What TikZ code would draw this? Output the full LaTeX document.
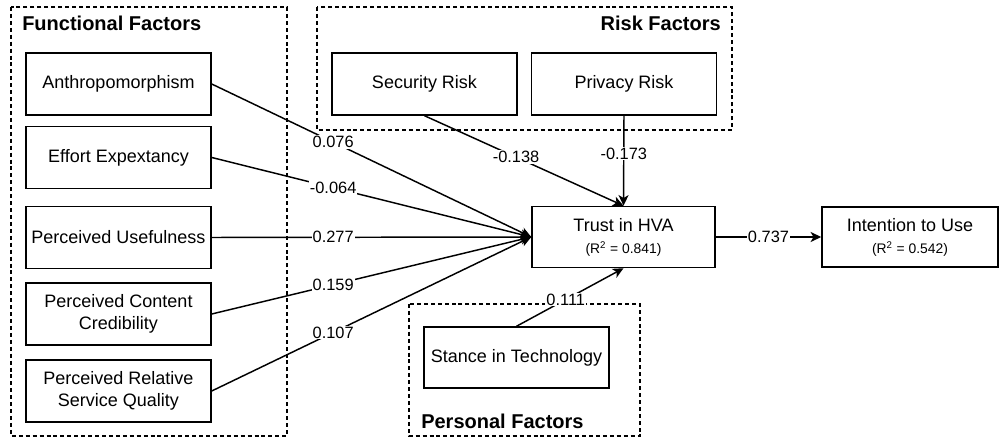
\documentclass[tikz,border=0pt]{standalone}
\usepackage{fontspec}
\setmainfont{Liberation Sans}
\usetikzlibrary{arrows.meta, positioning}
\newcommand{\rsqfont}{\fontsize{10.4}{12}\selectfont}

\begin{document}
\begin{tikzpicture}[x=0.75pt, y=-0.75pt,
  factor/.style={draw, line width=1.1pt, minimum height=46.5pt, minimum width=138.75pt,
                 inner sep=1pt, align=center, font=\fontsize{13.5}{16}\selectfont},
  group/.style={draw, dashed, line width=0.8pt, dash pattern=on 3pt off 2.2pt},
  head/.style={font=\fontsize{15}{18}\selectfont\bfseries, inner sep=0pt},
  lbl/.style={fill=white, inner sep=0.8pt, font=\fontsize{12.3}{14}\selectfont},
  arr/.style={line width=1.1pt, -{Stealth[length=8pt, width=7.5pt, inset=2.2pt]}}]
  \useasboundingbox (0,0) rectangle (1000,438);
  % dashed groups of factors
  \draw[group] (11,7) rectangle (287,436);
  \draw[group] (317,7) rectangle (732,130);
  \draw[group] (409,304) rectangle (640,436);
  \node[head, anchor=west] (funchead) at (22,23) {Functional Factors};
  \node[head, anchor=east] (riskhead) at (721,23) {Risk Factors};
  \node[head, anchor=west] (perhead)  at (421,421) {Personal Factors};
  % functional factors
  \node[factor] (anth) at (118.5,84)    {Anthropomorphism};
  \node[factor] (eff)  at (118.5,157.5) {Effort Expextancy};
  \node[factor] (use)  at (118.5,237.5) {Perceived Usefulness};
  \node[factor] (cred) at (118.5,314)   {Perceived Content\\Credibility};
  \node[factor] (rel)  at (118.5,391)   {Perceived Relative\\Service Quality};
  % risk factors
  \node[factor] (sec)  at (424.5,84) {Security Risk};
  \node[factor] (priv) at (624,84)   {Privacy Risk};
  % personal factor
  \node[factor, minimum height=45.75pt] (stance) at (516.5,357.5) {Stance in Technology};
  % outcomes
  \node[factor, minimum width=137.25pt, minimum height=45.75pt] (trust) at (623.5,237)
    {Trust in HVA\\[0.5pt]{\rsqfont (R\textsuperscript{2} = 0.841)}};
  \node[factor, minimum width=132pt, minimum height=45pt] (intent) at (910,237)
    {Intention to Use\\[0.5pt]{\rsqfont (R\textsuperscript{2} = 0.542)}};
  % paths with coefficients
  \draw[arr] (anth.east) -- node[lbl, pos=0.38] {0.076} (trust.west);
  \draw[arr] (eff.east)  -- node[lbl, pos=0.38] {-0.064} (trust.west);
  \draw[arr] (use.east)  -- node[lbl, pos=0.38] {0.277} (trust.west);
  \draw[arr] (cred.east) -- node[lbl, pos=0.38] {0.159} (trust.west);
  \draw[arr] (rel.east)  -- node[lbl, pos=0.38] {0.107} (trust.west);
  \draw[arr] (sec.south)  -- node[lbl, pos=0.46] {-0.138} (trust.north);
  \draw[arr] (priv.south) -- node[lbl, pos=0.42] {-0.173} (trust.north);
  \draw[arr] (stance.north) -- node[lbl, pos=0.46] {0.111} (trust.south);
  \draw[arr] (trust.east) -- node[lbl] {0.737} (intent.west);
\end{tikzpicture}
\end{document}
